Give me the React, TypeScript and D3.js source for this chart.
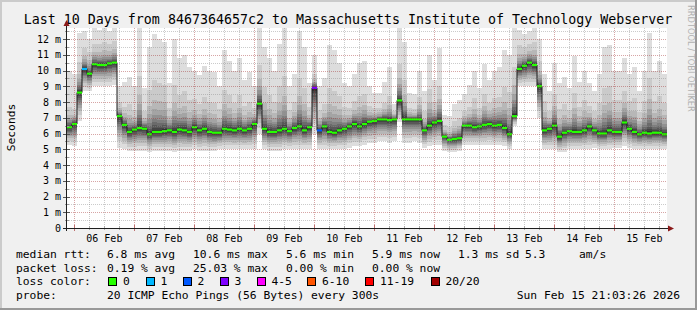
import React from "react";
import * as d3 from "d3";

// ---------- data ----------
const TITLE =
  "Last 10 Days from 8467364657c2 to Massachusetts Institute of Technology Webserver";
const END_TIME = Date.UTC(2026, 1, 15, 21, 3, 26);
const START_TIME = END_TIME - 10 * 24 * 3600 * 1000;
const STEP_MS = 2 * 3600 * 1000;

// median rtt (ms) per 2h step
const medianRtt = [
  6.4, 6.6, 8.6, 10.1, 9.8, 10.4, 10.35, 10.35, 10.45, 10.5,
  7.1, 6.55, 6.1, 6.25, 6.35, 6.3, 5.95, 6.1, 6.1, 6.15,
  6.2, 6.1, 6.25, 6.2, 6.1, 6.4, 6.2, 6.3, 6.1, 6.05,
  6.05, 6.3, 6.25, 6.2, 6.3, 6.2, 6.3, 6.6, 7.9, 6.3,
  6.1, 6.1, 6.2, 6.3, 6.15, 6.35, 6.45, 6.2, 6.4, 8.9,
  6.2, 6.45, 6.1, 6.05, 6.2, 6.3, 6.45, 6.6, 6.45, 6.6,
  6.75, 6.8, 6.9, 6.9, 6.85, 6.9, 8.1, 6.9, 6.9, 6.9,
  6.9, 6.2, 6.5, 6.7, 6.8, 5.8, 5.6, 5.65, 5.7, 6.5,
  6.5, 6.4, 6.45, 6.55, 6.6, 6.5, 6.55, 6.35, 5.95, 7.1,
  10.1, 10.3, 10.5, 10.35, 9.0, 6.2, 6.3, 6.5, 5.8, 6.05,
  6.15, 6.1, 6.1, 6.2, 6.45, 6.2, 6.0, 6.0, 6.2, 6.1,
  6.1, 6.7, 6.3, 6.1, 5.95, 6.05, 6.0, 6.05, 6.05, 5.95,
];

// lowest ping per step (ms)
const smokeLow = [
  5.3, 5.2, 6.8, 8.7, 8.7, 9.0, 9.0, 9.0, 9.0, 9.1,
  5.1, 5.0, 4.9, 4.9, 4.9, 4.9, 4.8, 4.9, 4.9, 4.9,
  4.9, 4.8, 4.9, 4.9, 4.9, 5.0, 4.9, 4.9, 4.9, 4.9,
  5.0, 5.0, 5.0, 5.0, 5.0, 5.0, 5.0, 5.0, 6.0, 5.0,
  4.9, 4.9, 4.9, 5.0, 5.0, 5.0, 5.0, 5.0, 5.0, 6.0,
  5.0, 5.0, 5.0, 5.0, 5.0, 5.0, 5.1, 5.2, 5.2, 5.3,
  5.4, 5.4, 5.5, 5.5, 5.4, 5.5, 6.7, 5.4, 5.4, 5.5,
  5.4, 5.1, 5.2, 5.3, 5.3, 4.9, 4.8, 4.8, 4.9, 5.3,
  5.3, 5.3, 5.3, 5.3, 5.3, 5.3, 5.3, 5.2, 5.0, 6.5,
  9.0, 9.0, 9.0, 9.0, 7.0, 5.0, 5.0, 5.0, 4.8, 4.8,
  5.0, 5.0, 5.0, 5.0, 5.0, 5.1, 5.0, 5.0, 5.0, 5.1,
  5.1, 5.2, 5.1, 5.0, 5.0, 5.0, 5.0, 5.0, 5.0, 5.0,
];

// highest ping per step (ms)
const smokeHigh = [
  10.0, 9.8, 12.4, 12.5, 12.0, 12.7, 12.6, 12.7, 12.5, 12.7,
  9.0, 9.3, 9.6, 9.0, 12.7, 8.9, 11.5, 12.3, 12.0, 11.8,
  9.2, 12.0, 10.8, 11.0, 10.2, 10.0, 9.7, 10.3, 10.0, 9.9,
  9.0, 11.3, 10.6, 10.0, 10.8, 9.4, 9.9, 9.0, 12.7, 11.5,
  10.8, 10.0, 11.7, 12.7, 9.0, 9.8, 12.5, 11.5, 9.2, 11.0,
  9.0, 9.5, 11.6, 11.3, 10.5, 9.2, 9.0, 9.8, 10.5, 10.6,
  9.0, 8.6, 8.6, 9.3, 10.2, 7.9, 12.7, 11.8, 8.6, 8.5,
  10.0, 8.7, 11.0, 9.4, 11.4, 7.2, 7.1, 7.9, 8.1, 8.5,
  9.1, 10.0, 8.9, 10.4, 9.4, 10.0, 10.2, 11.3, 11.0, 12.7,
  12.6, 12.3, 12.5, 12.7, 12.0, 9.8, 8.7, 10.5, 9.2, 9.6,
  8.9, 10.9, 9.3, 10.0, 9.2, 8.7, 9.8, 11.5, 11.6, 10.0,
  10.0, 10.8, 9.8, 10.2, 8.7, 10.0, 12.4, 10.0, 10.6, 9.8,
];

// upper edge of the denser smoke (ms)
const smokeUpper = [
  8.0, 7.8, 11.0, 11.8, 11.5, 12.0, 12.0, 12.2, 12.0, 12.2,
  8.2, 8.0, 8.3, 7.8, 10.5, 7.7, 9.5, 10.2, 10.0, 9.8,
  8.0, 9.8, 9.0, 9.3, 8.6, 8.6, 8.3, 8.8, 8.5, 8.4,
  7.9, 9.4, 9.0, 8.4, 9.0, 8.1, 8.4, 7.9, 11.0, 9.6,
  9.0, 8.5, 9.7, 10.5, 7.8, 8.4, 10.3, 9.6, 8.0, 10.0,
  7.8, 8.2, 9.6, 9.4, 8.9, 8.0, 7.9, 8.4, 8.9, 9.0,
  8.0, 7.8, 7.8, 8.2, 8.8, 7.6, 11.0, 10.0, 7.8, 7.7,
  8.7, 7.7, 9.4, 8.3, 9.6, 6.7, 6.6, 7.1, 7.3, 7.7,
  8.0, 8.7, 7.9, 9.0, 8.3, 8.7, 8.8, 9.6, 9.3, 11.0,
  12.0, 11.8, 12.0, 12.2, 11.0, 8.5, 7.7, 9.0, 8.0, 8.3,
  7.8, 9.2, 8.1, 8.6, 8.1, 7.7, 8.4, 9.6, 9.7, 8.6,
  8.6, 9.2, 8.5, 8.8, 7.7, 8.6, 10.4, 8.6, 9.0, 8.4,
];

// [step index, loss colour index]
const lossEvents: [number, number][] = [
  [3, 1],
  [49, 3],
  [50, 2],
];

const lossLabels = ["0", "1", "2", "3", "4-5", "6-10", "11-19", "20/20"];
const lossColors = ["#26ff00", "#00b8ff", "#0059ff", "#7e00ff", "#ff00ff", "#ff5500", "#ff0000", "#a10000"];

const yTickValues = [0, 1, 2, 3, 4, 5, 6, 7, 8, 9, 10, 11, 12];

const rttLegend = ["6.8 ms avg", "10.6 ms max", "5.6 ms min", "5.9 ms now", "1.3 ms sd", "5.3", "am/s"];
const lossLegend = ["0.19 % avg", "25.03 % max", "0.00 % min", "0.00 % now"];
const probeText = "20 ICMP Echo Pings (56 Bytes) every 300s";
const dateText = "Sun Feb 15 21:03:26 2026";

const smokeGreys = ["#dddddd", "#cacaca", "#b7b7b7", "#a4a4a4", "#919191", "#7e7e7e", "#6b6b6b", "#585858", "#454545", "#323232"];

// ---------- layout ----------
const W = 697;
const H = 310;
const PL = 67;
const PR = 667;
const PT = 28;
const PB = 228;
const FONT = "'DejaVu Sans Mono', monospace";

const BOT_FRAC = [0, 0.2, 0.35, 0.47, 0.57, 0.66, 0.74, 0.81, 0.88, 0.94];
const TOP_FRAC = [1, 0.8, 0.5, 0.36, 0.27, 0.2, 0.15, 0.1, 0.06, 0.03];

export default function App() {
  const x = d3
    .scaleUtc()
    .domain([new Date(START_TIME), new Date(END_TIME)])
    .range([PL, PR]);
  const y = d3.scaleLinear().domain([0, 12.7]).range([PB, PT]);

  const times = medianRtt.map((_, i) => new Date(START_TIME + i * STEP_MS));
  const nextT = (i: number) => new Date(Math.min(START_TIME + (i + 1) * STEP_MS, END_TIME));

  const smoke: JSX.Element[] = [];
  medianRtt.forEach((m, i) => {
    const x0 = x(times[i]);
    const x1 = x(nextT(i));
    const lo = smokeLow[i];
    const hi = smokeHigh[i];
    const up = smokeUpper[i];
    for (let k = 0; k < 10; k++) {
      const bot = lo + (m - lo) * BOT_FRAC[k];
      const top = k === 0 ? hi : m + (up - m) * TOP_FRAC[k];
      const yt = y(top);
      const yb = y(bot);
      smoke.push(
        <rect
          key={`s${i}-${k}`}
          x={x0}
          y={yt}
          width={x1 - x0}
          height={Math.max(0, yb - yt)}
          fill={smokeGreys[k]}
        />
      );
    }
  });

  const medianPts: [Date, number][] = times.map((t, i) => [t, medianRtt[i]]);
  medianPts.push([new Date(END_TIME), medianRtt[medianRtt.length - 1]]);
  const medianLine = d3
    .line<[Date, number]>()
    .x((d) => x(d[0]))
    .y((d) => y(d[1]))
    .curve(d3.curveStepAfter)(medianPts);

  const lossMap = new Map(lossEvents.map(([i, l]) => [i, l]));

  const hMinor = d3.range(0.5, 12.7, 1);
  const vMinor = d3
    .utcHour.every(6)!
    .range(new Date(START_TIME), new Date(END_TIME))
    .filter((d) => d.getUTCHours() !== 0);
  const vMajor = d3.utcDay.range(new Date(START_TIME), new Date(END_TIME));
  const dayLabels = vMajor
    .map((d) => new Date(d.getTime() + 12 * 3600 * 1000))
    .filter((d) => d.getTime() < END_TIME);
  const fmt = d3.utcFormat("%d %b");

  const crisp = (v: number) => Math.round(v) + 0.5;
  const gridMinor = "rgba(140,140,140,0.45)";
  const gridMajor = "rgba(160,40,40,0.42)";

  const colX = [107, 193, 286, 372, 458, 525, 579];
  const rowY = [258, 271.7, 285.4, 299];
  const boxX = [108, 145.5, 182.5, 219.5, 256.5, 307, 365, 430.5];

  return (
    <svg width={W} height={H} style={{ position: "absolute", left: 0, top: 0 }} fontFamily={FONT}>
      <rect x={0} y={0} width={W} height={H} fill="#f0f0f0" />
      <rect x={0} y={0} width={W} height={2} fill="#cbcbcb" />
      <rect x={0} y={0} width={2} height={H} fill="#cbcbcb" />
      <rect x={0} y={H - 2} width={W} height={2} fill="#999999" />
      <rect x={W - 2} y={0} width={2} height={H} fill="#999999" />

      <text x={348} y={24} fontSize={13.3} textAnchor="middle" fill="#000">
        {TITLE}
      </text>

      <text transform="translate(688,5) rotate(90)" fontSize={8.3} fill="#b0b0b0" fontFamily="'DejaVu Sans', sans-serif">
        RRDTOOL / TOBI OETIKER
      </text>

      <text transform="translate(15,127.5) rotate(-90)" fontSize={11.3} textAnchor="middle" fill="#000">
        Seconds
      </text>

      <rect x={PL} y={PT} width={PR - PL} height={PB - PT} fill="#ffffff" />

      <g shapeRendering="crispEdges">{smoke}</g>

      <path d={medianLine || ""} fill="none" stroke="#1a1a1a" strokeWidth={1} />
      <g>
        {medianRtt.map((m, i) => (
          <line
            key={`m${i}`}
            x1={x(times[i])}
            x2={x(nextT(i))}
            y1={y(m)}
            y2={y(m)}
            stroke={lossColors[lossMap.get(i) ?? 0]}
            strokeWidth={2.2}
          />
        ))}
      </g>

      <g shapeRendering="crispEdges" strokeDasharray="1,1" strokeWidth={1}>
        {hMinor.map((v) => (
          <line key={`hm${v}`} x1={PL} x2={PR} y1={crisp(y(v))} y2={crisp(y(v))} stroke={gridMinor} />
        ))}
        {vMinor.map((d) => (
          <line key={`vm${d.getTime()}`} x1={crisp(x(d))} x2={crisp(x(d))} y1={PT} y2={PB} stroke={gridMinor} />
        ))}
        {yTickValues.slice(1).map((v) => (
          <line key={`hM${v}`} x1={PL} x2={PR} y1={crisp(y(v))} y2={crisp(y(v))} stroke={gridMajor} />
        ))}
        {vMajor.map((d) => (
          <line key={`vM${d.getTime()}`} x1={crisp(x(d))} x2={crisp(x(d))} y1={PT} y2={PB} stroke={gridMajor} />
        ))}
      </g>

      <g shapeRendering="crispEdges">
        {yTickValues.map((v) => (
          <line key={`yt${v}`} x1={63} x2={70} y1={crisp(y(v))} y2={crisp(y(v))} stroke="#555" />
        ))}
        {hMinor.map((v) => (
          <line key={`ytm${v}`} x1={65} x2={69} y1={crisp(y(v))} y2={crisp(y(v))} stroke="#999" />
        ))}
        {vMajor.map((d) => (
          <line key={`xt${d.getTime()}`} x1={crisp(x(d))} x2={crisp(x(d))} y1={225} y2={231} stroke="#c07070" />
        ))}
        {vMinor.map((d) => (
          <line key={`xtm${d.getTime()}`} x1={crisp(x(d))} x2={crisp(x(d))} y1={226} y2={230} stroke="#aaa" />
        ))}
      </g>

      <g shapeRendering="crispEdges">
        <line x1={PL - 0.5} x2={PL - 0.5} y1={PB + 3} y2={PT - 4} stroke="#1f1f1f" />
        <line x1={PL - 4} x2={PR + 3} y1={PB + 0.5} y2={PB + 0.5} stroke="#1f1f1f" />
      </g>
      <path d={`M${PL - 3.5},${PT - 2} L${PL - 0.5},${PT - 8} L${PL + 2.5},${PT - 2} Z`} fill="#8b1a1a" />
      <path d={`M${PR + 1},${PB - 2.5} L${PR + 7},${PB + 0.5} L${PR + 1},${PB + 3.5} Z`} fill="#8b1a1a" />

      {yTickValues.map((v) => (
        <text key={`yl${v}`} x={61} y={y(v) + 3.6} fontSize={10} textAnchor="end" fill="#000">
          {v === 0 ? "0" : `${v} m`}
        </text>
      ))}

      {dayLabels.map((d) => (
        <text key={`xl${d.getTime()}`} x={x(d)} y={241.5} fontSize={10} textAnchor="middle" fill="#000">
          {fmt(d)}
        </text>
      ))}

      <g fontSize={11.3} fill="#000">
        <text x={16} y={rowY[0]}>median rtt:</text>
        {rttLegend.map((t, i) => (
          <text key={`r${i}`} x={colX[i]} y={rowY[0]}>
            {t}
          </text>
        ))}
        <text x={16} y={rowY[1]}>packet loss:</text>
        {lossLegend.map((t, i) => (
          <text key={`l${i}`} x={colX[i]} y={rowY[1]}>
            {t}
          </text>
        ))}
        <text x={16} y={rowY[2]}>loss color:</text>
        {lossLabels.map((t, i) => (
          <g key={`lc${i}`}>
            <rect
              x={boxX[i] + 0.5}
              y={277.5}
              width={8}
              height={8}
              fill={lossColors[i]}
              stroke="#000"
              strokeWidth={1}
              shapeRendering="crispEdges"
            />
            <text x={boxX[i] + 15} y={rowY[2]}>
              {t}
            </text>
          </g>
        ))}
        <text x={16} y={rowY[3]}>probe:</text>
        <text x={colX[0]} y={rowY[3]}>{probeText}</text>
        <text x={680} y={rowY[3]} textAnchor="end">
          {dateText}
        </text>
      </g>
    </svg>
  );
}
